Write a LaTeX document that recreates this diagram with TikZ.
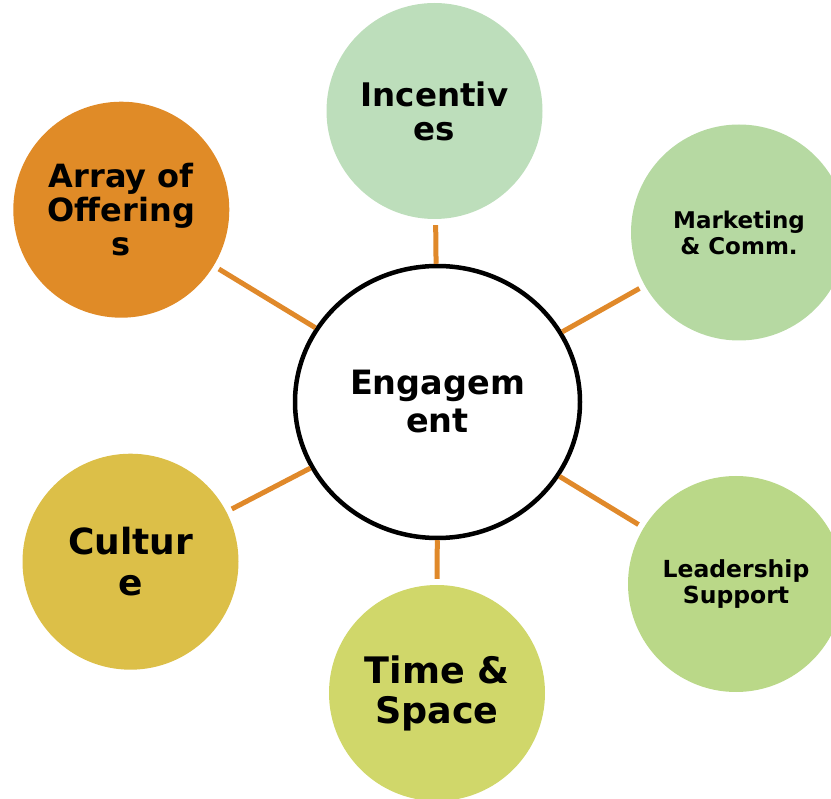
\documentclass[tikz,border=0pt]{standalone}
\usepackage{fontspec}
\setmainfont{DejaVu Sans}
\usetikzlibrary{shapes.geometric}

\definecolor{incgreen}{HTML}{BDDEBB}
\definecolor{mktgreen}{HTML}{B6D9A2}
\definecolor{leadgreen}{HTML}{BAD888}
\definecolor{timeolive}{HTML}{D0D76A}
\definecolor{cultgold}{HTML}{DCBF48}
\definecolor{arrayorange}{HTML}{E08B27}
\definecolor{linkorange}{HTML}{E0892A}

\begin{document}
\begin{tikzpicture}[x=1pt,y=-1pt,
  bubble/.style={circle, draw=none, minimum size=216pt, inner sep=0pt,
                 align=center, text=black},
  hubnode/.style={ellipse, draw=black, line width=4.5pt, fill=white,
                  minimum width=285pt, minimum height=272pt, inner sep=0pt,
                  align=center},
  link/.style={draw=linkorange, line width=5pt, shorten >=6pt}
]
\useasboundingbox (0,0) rectangle (831,799);

% central hub
\node[hubnode, font=\bfseries\fontsize{33.5}{38}\selectfont] (hub) at (437.5,402) {Engagem\\ent};

% surrounding factors
\node[bubble, fill=incgreen, font=\bfseries\fontsize{32.5}{34}\selectfont]
  (inc) at (434.5,111) {Incentiv\\es};
\node[bubble, fill=mktgreen, font=\bfseries\fontsize{23}{26}\selectfont]
  (mkt) at (739,232.5) {Marketing\\\& Comm.};
\node[bubble, fill=leadgreen, font=\bfseries\fontsize{23.5}{26}\selectfont]
  (lead) at (736,584) {Leadership\\Support};
\node[bubble, fill=timeolive, font=\bfseries\fontsize{36.5}{40}\selectfont]
  (time) at (437,693) {Time \&\\Space};
\node[bubble, fill=cultgold, font=\bfseries\fontsize{36}{41}\selectfont]
  (cult) at (130.5,561.7) {Cultur\\e};
\node[bubble, fill=arrayorange, font=\bfseries\fontsize{32}{34}\selectfont]
  (arr) at (121.3,209.7) {Array of\\Offering\\s};

% spokes
\foreach \n in {inc,mkt,lead,time,cult,arr}
  \draw[link] (hub) -- (\n);
\end{tikzpicture}
\end{document}
